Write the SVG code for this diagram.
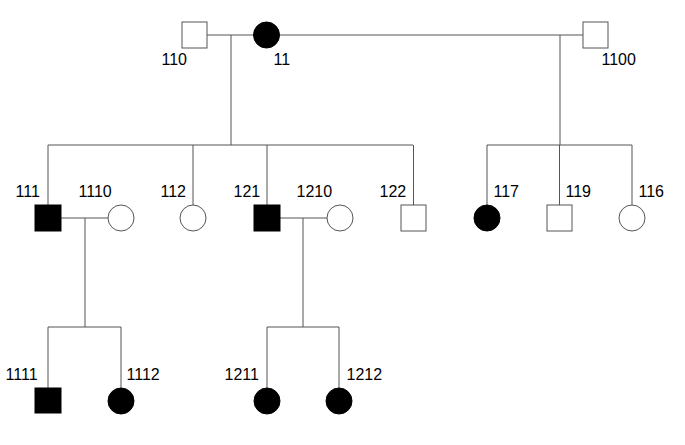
<svg xmlns="http://www.w3.org/2000/svg" width="685" height="445" viewBox="0 0 685 445">
<style>
.ln{stroke:#555;stroke-width:1;fill:none}
.open{fill:#fff;stroke:#555;stroke-width:1}
.aff{fill:#000;stroke:#000;stroke-width:1}
text{font-family:"Liberation Sans",Arial,sans-serif;font-size:16px;fill:#000}
</style>
<rect width="685" height="445" fill="#fff"/>
<g id="connectors">
<path class="ln" d="M207,35H254M279,35H583"/>
<path class="ln" d="M231,35V145M48,145H413M48,145V205M193,145V205M267,145V205M413.5,145V205"/>
<path class="ln" d="M560,35V145M487,145H632M487,145V205M559.5,145V205M632,145V205"/>
<path class="ln" d="M61,218H108M85,218V327M48,327H121M48,327V388M121,327V388"/>
<path class="ln" d="M280,218H327M303,218V327M267,327H339M267,327V388M339,327V388"/>
</g>
<g id="n110"><rect class="open" x="182" y="22" width="25" height="26"/><text x="161.5" y="65">110</text></g>
<g id="n11"><circle class="aff" cx="266.5" cy="35" r="13"/><text x="273.5" y="65">11</text></g>
<g id="n1100"><rect class="open" x="583" y="22" width="25" height="26"/><text x="601.5" y="65">1100</text></g>
<g id="n111"><rect class="aff" x="35" y="205" width="26" height="26"/><text x="15.5" y="197">111</text></g>
<g id="n1110"><circle class="open" cx="121" cy="218" r="13"/><text x="78.5" y="197">1110</text></g>
<g id="n112"><circle class="open" cx="193" cy="218" r="13"/><text x="160.5" y="197">112</text></g>
<g id="n121"><rect class="aff" x="254" y="205" width="26" height="26"/><text x="233.5" y="197">121</text></g>
<g id="n1210"><circle class="open" cx="340" cy="218" r="13"/><text x="296.5" y="197">1210</text></g>
<g id="n122"><rect class="open" x="401" y="205" width="25" height="26"/><text x="379.5" y="197">122</text></g>
<g id="n117"><circle class="aff" cx="487" cy="218" r="13"/><text x="493.5" y="197">117</text></g>
<g id="n119"><rect class="open" x="547" y="205" width="25" height="26"/><text x="565.5" y="197">119</text></g>
<g id="n116"><circle class="open" cx="632" cy="218" r="13"/><text x="638.5" y="197">116</text></g>
<g id="n1111"><rect class="aff" x="35" y="388" width="26" height="25"/><text x="5.5" y="380">1111</text></g>
<g id="n1112"><circle class="aff" cx="121" cy="401" r="13"/><text x="126.5" y="380">1112</text></g>
<g id="n1211"><circle class="aff" cx="267" cy="401" r="13"/><text x="224.5" y="380">1211</text></g>
<g id="n1212"><circle class="aff" cx="339" cy="401" r="13"/><text x="346.5" y="380">1212</text></g>
</svg>
